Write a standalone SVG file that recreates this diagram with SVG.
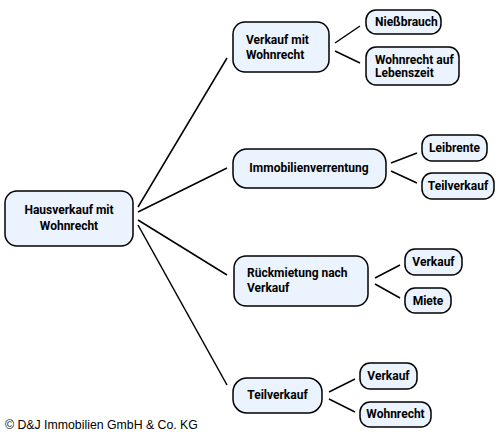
<svg xmlns="http://www.w3.org/2000/svg" width="500" height="435" viewBox="0 0 500 435">
<style>
.n rect{fill:#eaf3fe;stroke:#000;stroke-width:1.5}
.n text{font-family:Roboto,"Liberation Sans",sans-serif;font-weight:bold;font-size:12px;fill:#000}
.c line{stroke:#000;stroke-width:1.5}
.cp{font-family:"Liberation Sans",Arial,sans-serif;font-size:12.3px;fill:#000}
</style>
<rect width="500" height="435" fill="#fff"/>
<g class="c">
<line x1="138" y1="207" x2="227" y2="58"/>
<line x1="138" y1="212" x2="227" y2="168"/>
<line x1="138" y1="220" x2="227" y2="275"/>
<line x1="138" y1="225" x2="227" y2="385"/>
<line x1="335" y1="43" x2="360" y2="26"/>
<line x1="335" y1="51" x2="360" y2="63"/>
<line x1="391" y1="163" x2="417" y2="153"/>
<line x1="391" y1="171" x2="417" y2="183"/>
<line x1="375" y1="278" x2="400" y2="265"/>
<line x1="375" y1="284" x2="400" y2="298"/>
<line x1="329" y1="392" x2="355" y2="379"/>
<line x1="329" y1="399" x2="355" y2="412"/>
</g>
<g id="root" class="n"><rect x="5" y="191" width="128" height="55" rx="12"/><text x="69" y="214" text-anchor="middle">Hausverkauf mit</text><text x="69" y="230" text-anchor="middle">Wohnrecht</text></g>
<g id="verkauf-wohnrecht" class="n"><rect x="233" y="22" width="96" height="50" rx="12"/><text x="246" y="44">Verkauf mit</text><text x="246" y="59">Wohnrecht</text></g>
<g id="niessbrauch" class="n"><rect x="366" y="10" width="75" height="24" rx="10"/><text x="375" y="26">Nießbrauch</text></g>
<g id="wohnrecht-leben" class="n"><rect x="366" y="47" width="93" height="38" rx="10"/><text x="375" y="64">Wohnrecht auf</text><text x="375" y="77">Lebenszeit</text></g>
<g id="immo" class="n"><rect x="233" y="149" width="153" height="39" rx="14"/><text x="309" y="172" text-anchor="middle">Immobilienverrentung</text></g>
<g id="leibrente" class="n"><rect x="422" y="135" width="65" height="26" rx="10"/><text x="454.5" y="152" text-anchor="middle">Leibrente</text></g>
<g id="teilverkauf2" class="n"><rect x="422" y="173" width="72" height="26" rx="10"/><text x="458" y="190" text-anchor="middle">Teilverkauf</text></g>
<g id="rueck" class="n"><rect x="234" y="256" width="134" height="50" rx="12"/><text x="247" y="277">Rückmietung nach</text><text x="247" y="292">Verkauf</text></g>
<g id="verkauf3" class="n"><rect x="405" y="249" width="57" height="26" rx="10"/><text x="433.5" y="266" text-anchor="middle">Verkauf</text></g>
<g id="miete" class="n"><rect x="405" y="288" width="46" height="25" rx="10"/><text x="428" y="305" text-anchor="middle">Miete</text></g>
<g id="teilverkauf" class="n"><rect x="233" y="378" width="89" height="35" rx="14"/><text x="277.5" y="399" text-anchor="middle">Teilverkauf</text></g>
<g id="verkauf4" class="n"><rect x="360" y="363" width="57" height="26" rx="10"/><text x="388.5" y="380" text-anchor="middle">Verkauf</text></g>
<g id="wohnrecht4" class="n"><rect x="360" y="402" width="71" height="25" rx="10"/><text x="395.5" y="418" text-anchor="middle">Wohnrecht</text></g>
<text class="cp" x="5" y="429">© D&amp;J Immobilien GmbH &amp; Co. KG</text>
</svg>
